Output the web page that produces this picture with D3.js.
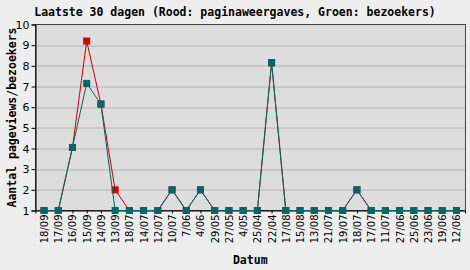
<!DOCTYPE html>
<html>
<head>
<meta charset="utf-8">
<script src="https://cdn.jsdelivr.net/npm/d3@7"></script>
<style>
  body { margin: 0; background: #eeeeee; }
  svg { display: block; }
</style>
</head>
<body>
<div id="chart"></div>
<script>
// data (newest first, as in the original)
const dates = ["18/09", "17/09", "16/09", "15/09", "14/09", "13/09", "18/07", "14/07", "12/07", "10/07",
  "7/06", "4/06", "29/05", "27/05", "4/05", "25/04", "22/04", "17/08", "15/08", "13/08",
  "21/07", "19/07", "18/07", "17/07", "11/07", "27/06", "25/06", "23/06", "19/06", "12/06"];
const pageviews = [1, 1, 4.05, 9.2, 6.15, 2, 1, 1, 1, 2, 1, 2, 1, 1, 1, 1, 8.15, 1, 1, 1, 1, 1, 2, 1, 1, 1, 1, 1, 1, 1];
const visitors = [1, 1, 4.05, 7.15, 6.15, 1, 1, 1, 1, 2, 1, 2, 1, 1, 1, 1, 8.15, 1, 1, 1, 1, 1, 2, 1, 1, 1, 1, 1, 1, 1];
const yTicks = [1, 2, 3, 4, 5, 6, 7, 8, 9, 10];

const W = 470, H = 270;
const margin = { top: 24.5, right: 5, bottom: 59.5, left: 35.5 };
const width = W - margin.left - margin.right,
  height = H - margin.top - margin.bottom;

const svg = d3.select("#chart").append("svg")
  .attr("width", W)
  .attr("height", H);

svg.append("rect").attr("width", W).attr("height", H).attr("fill", "#eeeeee");

const g = svg.append("g")
  .attr("transform", `translate(${margin.left},${margin.top})`);

const x = d3.scalePoint()
  .domain(d3.range(dates.length))
  .range([0, width])
  .padding(0.6);

const y = d3.scaleLinear().domain([1, 10]).range([height, 0]);

// plot background
g.append("rect")
  .attr("width", width)
  .attr("height", height)
  .attr("fill", "#dddddd");

// horizontal grid
g.append("g")
  .selectAll("line")
  .data(yTicks.slice(1, -1))
  .enter()
  .append("line")
  .attr("x1", 0)
  .attr("x2", width)
  .attr("y1", (d) => Math.round(y(d)) + 0.5)
  .attr("y2", (d) => Math.round(y(d)) + 0.5)
  .attr("stroke", "#b4b4b4")
  .attr("stroke-width", 1);

// frame
g.append("rect")
  .attr("width", width)
  .attr("height", height)
  .attr("fill", "none")
  .attr("stroke", "#444444")
  .attr("stroke-width", 1)
  .style("shape-rendering", "crispEdges");

// y axis
const yAxis = g.append("g")
  .call(d3.axisLeft(y).tickValues(yTicks).tickSize(4).tickPadding(2).tickFormat(d3.format("d")));
yAxis.select(".domain").attr("stroke", "#000");
yAxis.selectAll("line").attr("stroke", "#000");
yAxis.selectAll("text")
  .style("font-family", "'DejaVu Sans', Verdana, sans-serif")
  .style("font-size", "11px")
  .attr("fill", "#000");

// x axis
const xAxis = g.append("g")
  .attr("transform", `translate(0,${height})`)
  .call(d3.axisBottom(x).tickSize(3).tickFormat((i) => dates[i]));
xAxis.select(".domain").attr("stroke", "#000");
xAxis.selectAll("line").attr("stroke", "#000");
xAxis.selectAll("text")
  .style("font-family", "'DejaVu Sans', Verdana, sans-serif")
  .style("font-size", "10px")
  .attr("fill", "#000")
  .style("text-anchor", "end")
  .attr("transform", "rotate(-90)")
  .attr("x", -4)
  .attr("dx", 0)
  .attr("y", 0)
  .attr("dy", "0.35em");

const line = d3.line()
  .x((d, i) => x(i))
  .y((d) => y(d));

const series = [
  { values: pageviews, color: "#cc0000" },
  { values: visitors, color: "#006666" }
];

series.forEach((s) => {
  g.append("path")
    .datum(s.values)
    .attr("fill", "none")
    .attr("stroke", s.color)
    .attr("stroke-width", 1)
    .attr("d", line);
  g.append("g")
    .selectAll("rect")
    .data(s.values)
    .enter()
    .append("rect")
    .attr("x", (d, i) => x(i) - 3.5)
    .attr("y", (d) => y(d) - 3.5)
    .attr("width", 7)
    .attr("height", 7)
    .attr("fill", s.color);
});

const labelFont = "'DejaVu Sans Mono', 'Liberation Mono', monospace";

// title
svg.append("text")
  .attr("x", 235)
  .attr("y", 16)
  .attr("text-anchor", "middle")
  .style("font-family", labelFont)
  .style("font-weight", "bold")
  .style("font-size", "11.5px")
  .text("Laatste 30 dagen (Rood: paginaweergaves, Groen: bezoekers)");

// axis titles
svg.append("text")
  .attr("transform", `translate(16,${margin.top + height / 2}) rotate(-90)`)
  .attr("text-anchor", "middle")
  .style("font-family", labelFont)
  .style("font-weight", "bold")
  .style("font-size", "11.5px")
  .text("Aantal pageviews/bezoekers");

svg.append("text")
  .attr("x", margin.left + width / 2)
  .attr("y", 264)
  .attr("text-anchor", "middle")
  .style("font-family", labelFont)
  .style("font-weight", "bold")
  .style("font-size", "11.5px")
  .text("Datum");
</script>
</body>
</html>
